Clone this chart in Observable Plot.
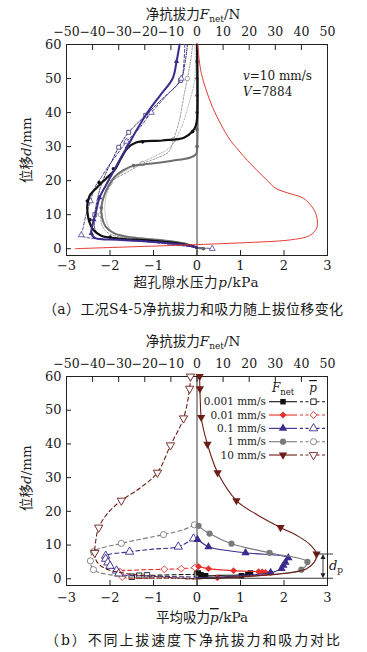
<!DOCTYPE html>
<html><head><meta charset="utf-8">
<script src="https://cdn.jsdelivr.net/npm/d3@7"></script>
<script src="https://cdn.jsdelivr.net/npm/@observablehq/plot@0.6"></script>
<style>
body{margin:0;background:#fff;}
#wrap{width:367px;}
svg{display:block;}
</style></head><body><div id="wrap"></div>
<script>
// ---------- axes / ticks ----------
const pTicks = [-3, -2, -1, 0, 1, 2, 3];               // kPa (bottom axis)
const fTicks = [-50, -40, -30, -20, -10, 0, 10, 20, 30, 40, 50]; // N (top axis)
const dTicks = [0, 10, 20, 30, 40, 50, 60];            // mm
const N_PER_KPA = 50 / 3;                               // top axis aligned to bottom axis

// ---------- panel (a): S4-5, v = 10 mm/s ; [p (kPa), d (mm)] ----------
const aRed = [[-2.8,0],[-1.4,0.6],[0,1.2],[1.16,1.8],[1.8,2.2],[2.15,2.6],[2.5,3.4],[2.65,4.4],[2.75,6],[2.77,7.5],[2.74,10],[2.66,12],[2.45,14.8],[2.08,16.4],[1.8,17.8],[1.62,20],[1.38,23],[1.16,25.9],[0.95,29],[0.77,31.8],[0.55,36.5],[0.36,41.5],[0.2,47],[0.1,51.5],[0.05,55.5],[0.02,60]];
const aBlack = [[0,60],[0,38],[-0.03,36],[-0.1,34.5],[-0.3,32.6],[-0.8,31.8],[-1.4,31.2],[-1.6,29.5],[-1.75,26.5],[-1.9,23],[-2.1,20.5],[-2.3,18],[-2.47,15.5],[-2.52,13],[-2.52,11],[-2.48,8],[-2.38,5.5],[-2.2,3.8],[-1.8,3.0],[-1.0,2.3],[-0.4,1.5],[-0.1,0.8],[0,0.2]];
const aBlackPts = [[-0.1,34.4],[-1.25,31.4],[-1.92,23.5],[-2.25,19.4],[-2.52,14],[-2.46,8.5],[-2.0,3.4]];
const aGray = [[0,60],[0,29],[-0.02,27.8],[-0.15,26.8],[-0.6,25.8],[-1.2,24.8],[-1.46,24.4],[-1.7,23],[-1.9,21],[-2.05,18],[-2.15,15],[-2.2,12],[-2.18,9],[-2.1,6.5],[-1.9,4.5],[-1.5,3.3],[-0.9,2.6],[-0.3,1.6],[0,0.3],[0.15,0]];
const aGrayPts = [[0,55],[0,50],[0,45],[0,40],[0,35],[0,30],[-1.46,24.4],[-2.2,12],[0.15,0]];
const aBlue = [[-0.4,60],[-0.47,55],[-0.56,50],[-0.85,45],[-1.14,40],[-1.38,35],[-1.6,30],[-1.78,26],[-1.95,22],[-2.1,18.5],[-2.24,15],[-2.32,11],[-2.4,7],[-2.43,4.5],[-2.35,3.2],[-1.8,2.6],[-1.0,2.0],[-0.35,1.2],[0,0.3]];
const aBluePts = [[-0.47,55],[-1.6,30],[-2.24,15],[-2.37,8.5],[-2.43,4.5]];
const aBlueDash = [[-0.28,60],[-0.3,55],[-0.36,50],[-0.7,45],[-1.05,40],[-1.35,35],[-1.62,31.5],[-1.85,27.5],[-2.05,24],[-2.2,21],[-2.35,18],[-2.45,14],[-2.55,10],[-2.62,6],[-2.66,4],[-2.5,3.2],[-1.8,2.6],[-1.0,1.8],[-0.3,0.8],[0.35,0]];
const aBlueDashPts = [[-0.36,50],[-1.05,40],[-1.62,31.5],[-2.45,14],[-2.66,4],[0.35,0]];
const aDarkDash = [[-0.22,60],[-0.27,55],[-0.38,49.4],[-0.8,44],[-1.18,39.2],[-1.57,34.2],[-1.8,29.8],[-1.95,26],[-2.1,22],[-2.22,18],[-2.3,14],[-2.35,10],[-2.35,6],[-2.25,4],[-1.8,3],[-1.0,2.2],[-0.3,1],[0.2,0]];
const aDarkDashPts = [[-0.38,49.4],[-1.18,39.2],[-1.57,34.2],[-1.8,29.8],[-2.35,10]];
const aGrayDot = [[-0.1,60],[-0.15,55],[-0.22,50],[-0.3,45],[-0.4,38],[-0.54,32],[-0.65,28.5],[-0.95,26.5],[-1.25,25],[-1.6,22.5],[-2.0,19.4],[-2.15,15],[-2.22,10],[-2.15,6],[-1.95,4],[-1.4,3],[-0.7,2],[-0.2,1],[0,0.3]];
const aGrayDotPts = [[-0.22,50],[-0.54,32],[-1.25,25],[-2.0,19.4],[-2.22,10]];
const aLightDot = [[-0.05,60],[-0.05,50],[-0.2,42],[-0.38,35],[-0.6,30],[-1.0,27],[-1.5,24],[-1.85,21],[-2.05,17],[-2.12,12],[-2.05,7],[-1.9,4.5],[-1.3,3.2],[-0.5,2],[0,0.5]];

// ---------- panel (b): speeds ----------
const speeds = ["0.001 mm/s", "0.01 mm/s", "0.1 mm/s", "1 mm/s", "10 mm/s"];
// F_net series: [F (N), d (mm)] ; p-bar series: [p (kPa), d (mm)]
const bF001 = [[0,1.8],[1.3,1.6],[3.3,0.9],[8,1.0],[16,1.1],[19,1.4],[20.5,1.7],[17,0.7],[8,0.3],[0,0]];
const bF001Pts = [[0.5,1.7],[1.5,1.2],[3.3,0.9],[17,0.9],[19.5,1.3],[20.5,1.7]];
const bP001 = [[0,1.3],[-0.3,1.25],[-0.8,1.1],[-1.2,1.0],[-1.35,0.9],[-1.5,0.6],[-1.3,0.3],[-0.5,0.1],[0,0]];
const bP001Pts = [[0,1.3],[-1.15,1.0],[-1.33,0.9],[-1.5,0.6]];
const bF01 = [[0,3.8],[0.6,3.6],[4.4,3.0],[14,2.4],[23.6,2.1],[26.2,1.9],[28.2,1.8],[27,1.2],[22.4,0.9],[7.8,0.3],[0,0]];
const bF01Pts = [[0.6,3.6],[4.4,3.0],[14,2.4],[23.6,2.1],[25,2.0],[26.2,1.9],[28.2,1.8],[7.8,0.3]];
const bP01 = [[-0.05,3.3],[-0.36,3.0],[-0.8,2.8],[-1.55,2.5],[-1.8,2.2],[-1.78,1],[-1.7,0.4],[-1,0.2],[0,0]];
const bP01Pts = [[-0.05,3.3],[-0.36,3.0],[-0.75,2.8],[-1.78,2.2],[-1.72,0.5]];
const bF1 = [[0,12],[0.2,11.8],[4.4,9.5],[18.6,7.7],[35,6.2],[33.9,4.9],[33.1,4],[32.4,3],[28.2,1.8],[16.7,0.9],[0,0.3]];
const bF1Pts = [[0.2,11.6],[4.4,9.5],[18.6,7.7],[35,6.2],[33.9,4.9],[33.1,4],[32.4,3],[28.2,1.8]];
const bP1 = [[-0.08,11.9],[-0.43,9.5],[-1.0,8.8],[-1.55,8],[-2.1,6.8],[-2.1,5.9],[-2.05,4.8],[-2.0,3.8],[-1.85,2.4],[-1.8,1.5],[-1.0,0.8],[0,0.5]];
const bP1Pts = [[-0.08,11.9],[-0.43,9.5],[-1.55,8],[-2.1,6.8],[-2.1,5.9],[-2.05,4.8],[-2.0,3.8],[-1.85,2.4],[-1.8,1.5]];
const bF10 = [[0,16.5],[0.6,15.7],[4.8,13.4],[13.2,10.4],[27.8,7.7],[42.3,5],[40,2.7],[30,1.4],[15,0.5],[0,0]];
const bF10Pts = [[0.6,15.7],[4.8,13.4],[13.2,10.4],[27.8,7.7],[42.3,5],[40,2.7]];
const bP10 = [[-0.06,16],[-0.3,14.6],[-0.77,13.1],[-1.74,10.5],[-2.38,8],[-2.45,5.3],[-2.38,2.7],[-1.85,0.9],[-1,0.3],[0,0]];
const bP10Pts = [[-0.06,16],[-0.77,13.1],[-1.74,10.5],[-2.38,8],[-2.45,5.3],[-2.38,2.7]];
const bF100 = [[1,60],[1.1,56.4],[1.3,52],[1.6,47.9],[4,39.9],[7.9,31.5],[15.1,23.2],[23,19],[32,15.2],[39,12.5],[43.5,10],[45.8,7.4],[45,5],[42,3],[36,1.8],[25,1],[12,0.4],[0,0]];
const bF100Pts = [[1,60],[1.1,56.4],[1.6,47.9],[4,39.9],[7.9,31.5],[15.1,23.2],[32,15.2],[45.8,7.4]];
const bP100 = [[-0.15,60],[-0.17,56.4],[-0.31,47.6],[-0.61,39.6],[-0.91,31.5],[-1.3,27],[-1.74,23.2],[-2.05,19.5],[-2.26,15.2],[-2.33,11],[-2.35,7.7],[-2.3,5],[-2.1,3],[-1.6,1.5],[-0.8,0.5],[0,0]];
const bP100Pts = [[-0.15,60],[-0.17,56.4],[-0.31,47.6],[-0.61,39.6],[-0.91,31.5],[-1.74,23.2],[-2.26,15.2],[-2.35,7.7]];
const dpValue = 7.2; // mm, peak displacement for 10 mm/s

// ---------- styling ----------
const FONT = "'DejaVu Serif','Noto Sans CJK SC',serif";
const INK = "#1a1a1a";
const colors = ["#111111", "#e8302a", "#3c2a8c", "#7a7a7a", "#6b1d16"];
const symbols = ["square", "diamond2", "triangle", "circle", "triangle"];
const rotations = [0, 0, 0, 0, 180];
const fmt = v => (v < 0 ? "\u2212" + Math.abs(v) : String(v));

function axes(topPad, botPad) {
  const fPos = fTicks.map(f => f / N_PER_KPA);
  return [
    Plot.frame({stroke: "#222", strokeWidth: 1}),
    Plot.axisX(pTicks, {anchor: "bottom", tickSize: 0, tickPadding: botPad, tickFormat: fmt, label: null, fontSize: 13}),
    Plot.axisX(pTicks.slice(1, -1), {anchor: "bottom", tickSize: 5, dy: -5, fill: "none", label: null, stroke: "#222"}),
    Plot.axisX(fPos, {anchor: "top", tickSize: 0, tickPadding: topPad, tickFormat: v => fmt(Math.round(v * N_PER_KPA)), label: null, fontSize: 12.5}),
    Plot.axisX(fPos.slice(1, -1), {anchor: "top", tickSize: 5, dy: 5, fill: "none", label: null, stroke: "#222"}),
    Plot.axisY(dTicks, {anchor: "left", tickSize: 0, tickPadding: 5, tickFormat: fmt, label: null, fontSize: 13}),
    Plot.axisY(dTicks.slice(0, -1), {anchor: "left", tickSize: 5, dx: 5, fill: "none", label: null, stroke: "#222"}),
    Plot.ruleX([0], {stroke: "#222", strokeWidth: 0.9})
  ];
}
const P = d => d[0], D = d => d[1], F = d => d[0] / N_PER_KPA;
const ln = (data, x, o) => Plot.line(data, {x, y: D, curve: "catmull-rom", ...o});
const pts = (data, x, o) => Plot.dot(data, {x, y: D, ...o});

function base(height, marginTop, marginBottom, marks) {
  return Plot.plot({
    width: 367, height, marginLeft: 66, marginRight: 40, marginTop, marginBottom,
    x: {domain: [-3, 3], axis: null, label: null},
    y: {domain: [-2, 60], axis: null, label: null},
    style: {fontFamily: FONT, fontSize: "13px", color: INK, background: "white", overflow: "visible"},
    marks
  });
}

function rich(sel, x, y, parts, {anchor = "middle", size = 13, rotate = null, textLength = null} = {}) {
  const t = sel.append("text").attr("x", x).attr("y", y).attr("text-anchor", anchor)
    .attr("font-size", size).attr("fill", INK).attr("font-family", FONT);
  if (rotate != null) t.attr("transform", `rotate(${rotate},${x},${y})`);
  if (textLength) t.attr("textLength", textLength).attr("lengthAdjust", "spacing");
  for (const p of parts) {
    const s = t.append("tspan").text(p.t);
    if (p.i) s.attr("font-style", "italic");
    if (p.sub) s.attr("font-size", p.sub).attr("dy", p.dy ?? 3);
    if (p.back) s.attr("dy", -p.back);
    if (p.over) s.attr("text-decoration", "overline");
  }
  return t;
}

// ---------- panel (a) ----------
const openDot = (data, sym, color, r = 2.2) => pts(data, P, {symbol: sym, r, stroke: color, fill: "white", strokeWidth: 0.8});
const chartA = base(320, 44, 65, [
  ...axes(9, 5),
  ln(aLightDot, P, {stroke: "#b0b0b0", strokeWidth: 0.9, strokeDasharray: "1.5,1.5"}),
  ln(aGrayDot, P, {stroke: "#8c8c8c", strokeWidth: 0.9, strokeDasharray: "2,1.6"}),
  openDot(aGrayDotPts, "circle", "#8c8c8c"),
  ln(aDarkDash, P, {stroke: "#34346a", strokeWidth: 1, strokeDasharray: "2.5,1.5"}),
  openDot(aDarkDashPts, "square", "#34346a"),
  ln(aBlueDash, P, {stroke: "#5040a0", strokeWidth: 1, strokeDasharray: "3,2"}),
  openDot(aBlueDashPts, "triangle", "#5040a0"),
  ln(aGray, P, {stroke: "#6e6e6e", strokeWidth: 2}),
  pts(aGrayPts, P, {symbol: "circle", r: 1.8, fill: "#666"}),
  ln(aBlack, P, {stroke: "#111", strokeWidth: 2.2}),
  pts(aBlackPts, P, {symbol: "circle", r: 1.8, fill: "#111"}),
  ln(aBlue, P, {stroke: "#3c2a8c", strokeWidth: 2}),
  pts(aBluePts, P, {symbol: "triangle", r: 2, fill: "#3c2a8c"}),
  ln(aRed, P, {stroke: "#e53a33", strokeWidth: 1})
]);

// ---------- panel (b) ----------
const bSeries = [
  [bF001, bF001Pts, bP001, bP001Pts],
  [bF01, bF01Pts, bP01, bP01Pts],
  [bF1, bF1Pts, bP1, bP1Pts],
  [bF10, bF10Pts, bP10, bP10Pts],
  [bF100, bF100Pts, bP100, bP100Pts]
];
const bMarks = [];
bSeries.forEach(([fl, fp, pl, pp], i) => {
  const c = colors[i];
  bMarks.push(
    ln(pl, P, {stroke: c, strokeWidth: 1.1, strokeDasharray: "4,3"}),
    pts(pp, P, {symbol: symbols[i], rotate: rotations[i], r: 3.1, stroke: c, fill: "white", strokeWidth: 0.9}),
    ln(fl, F, {stroke: c, strokeWidth: 1.1}),
    pts(fp, F, {symbol: symbols[i], rotate: rotations[i], r: 3.1, fill: c})
  );
});
const chartB = base(332, 56, 67, [...axes(9, 7), ...bMarks]);

// ---------- annotations ----------
const wrap = document.getElementById("wrap");
wrap.append(chartA, chartB);

const sa = d3.select(chartA);
rich(sa, 193, 19, [{t: "净抗拔力"}, {t: "F", i: 1}, {t: "net", sub: 9}, {t: "/N", back: 3}], {size: 13.5});
rich(sa, 196, 287, [{t: "超孔隙水压力"}, {t: "p", i: 1}, {t: "/kPa"}], {size: 13.5, textLength: 125});
rich(sa, 193, 314, [{t: "（a）工况S4-5净抗拔力和吸力随上拔位移变化"}], {size: 14, textLength: 300});
rich(sa, 31, 150, [{t: "位移"}, {t: "d", i: 1}, {t: "/mm"}], {size: 13.5, rotate: -90});
rich(sa, 243, 80, [{t: "v", i: 1}, {t: "=10 mm/s"}], {anchor: "start", size: 12});
rich(sa, 243, 96, [{t: "V", i: 1}, {t: "=7884"}], {anchor: "start", size: 12});

const sb = d3.select(chartB);
rich(sb, 193, 26, [{t: "净抗拔力"}, {t: "F", i: 1}, {t: "net", sub: 9}, {t: "/N", back: 3}], {size: 13.5});
rich(sb, 202, 302, [{t: "平均吸力"}, {t: "p", i: 1, over: 1}, {t: "/kPa"}], {size: 13.5});
rich(sb, 192.5, 325, [{t: "（b）不同上拔速度下净抗拔力和吸力对比"}], {size: 14, textLength: 295});
rich(sb, 31, 158, [{t: "位移"}, {t: "d", i: 1}, {t: "/mm"}], {size: 13.5, rotate: -90});

// legend
rich(sb, 283, 72, [{t: "F", i: 1}, {t: "net", sub: 8.5}], {anchor: "middle", size: 12});
rich(sb, 313, 72, [{t: "p", i: 1, over: 1}], {anchor: "middle", size: 12});
const symMap = {square: d3.symbolSquare, diamond2: d3.symbolDiamond2, triangle: d3.symbolTriangle, circle: d3.symbolCircle};
const lg = sb.append("g");
speeds.forEach((s, i) => {
  const y = 81.7 + i * 13.33, c = colors[i];
  rich(lg, 266, y + 3.6, [{t: s}], {anchor: "end", size: 10.5});
  lg.append("line").attr("x1", 269).attr("x2", 297).attr("y1", y).attr("y2", y).attr("stroke", c).attr("stroke-width", 1.1);
  lg.append("line").attr("x1", 300).attr("x2", 327).attr("y1", y).attr("y2", y).attr("stroke", c).attr("stroke-width", 1.1).attr("stroke-dasharray", "3,2.5");
  const path = d3.symbol(symMap[symbols[i]], 3.1 * 3.1 * Math.PI)();
  lg.append("path").attr("d", path).attr("transform", `translate(283,${y}) rotate(${rotations[i]})`).attr("fill", c);
  lg.append("path").attr("d", path).attr("transform", `translate(313.5,${y}) rotate(${rotations[i]})`).attr("fill", "white").attr("stroke", c).attr("stroke-width", 0.9);
});

// d_p annotation using the chart's scales
const X = chartB.scale("x"), Y = chartB.scale("y");
const xPeak = X.apply(bF100Pts[bF100Pts.length - 1][0] / N_PER_KPA);
const xr = X.apply(3);
sb.append("line").attr("x1", X.apply(0)).attr("x2", xr + 6).attr("y1", Y.apply(0)).attr("y2", Y.apply(0)).attr("stroke", "#222").attr("stroke-width", 0.9);
sb.append("line").attr("x1", xPeak).attr("x2", xr + 6).attr("y1", Y.apply(dpValue)).attr("y2", Y.apply(dpValue)).attr("stroke", "#222").attr("stroke-width", 0.9);
const ax = xr - 4, y1 = Y.apply(dpValue), y2 = Y.apply(0);
sb.append("line").attr("x1", ax).attr("x2", ax).attr("y1", y1 + 4).attr("y2", y2 - 4).attr("stroke", "#222").attr("stroke-width", 0.9);
sb.append("path").attr("d", `M${ax},${y1}L${ax - 2.5},${y1 + 5}L${ax + 2.5},${y1 + 5}Z`).attr("fill", "#222");
sb.append("path").attr("d", `M${ax},${y2}L${ax - 2.5},${y2 - 5}L${ax + 2.5},${y2 - 5}Z`).attr("fill", "#222");
rich(sb, xr + 2, (y1 + y2) / 2 + 4, [{t: "d", i: 1}, {t: "p", sub: 9}], {anchor: "start", size: 13});
</script></body></html>
